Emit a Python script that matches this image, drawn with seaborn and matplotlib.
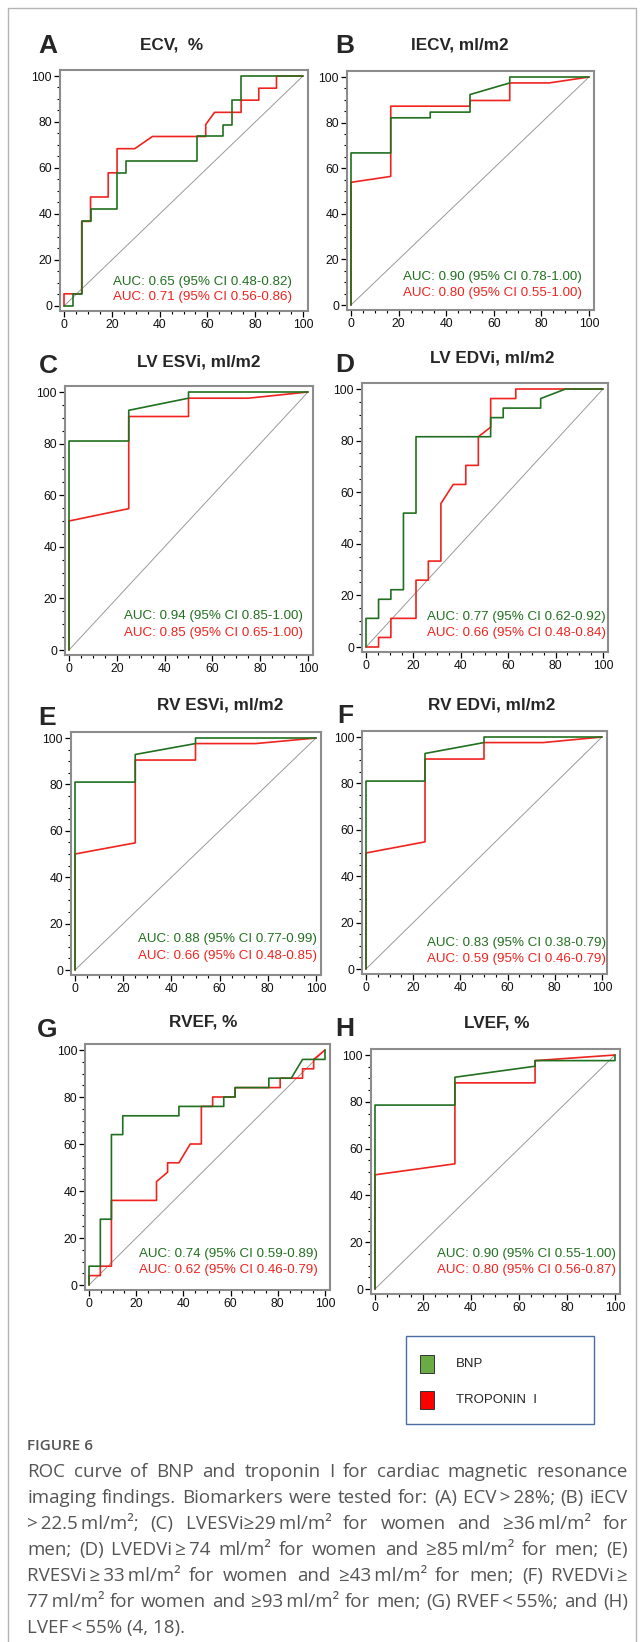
import numpy as np
import pandas as pd
import matplotlib
matplotlib.use("Agg")
import matplotlib.pyplot as plt
import seaborn as sns
from matplotlib.patches import Rectangle
from matplotlib.lines import Line2D
from matplotlib.ticker import MultipleLocator

# ROC points: x = 100-specificity (%), y = sensitivity (%)
ecv_bnp_x = [0, 3.7, 3.7, 7.4, 7.4, 11.1, 11.1, 22.2, 22.2, 25.9, 25.9, 55.6, 55.6, 66.7, 66.7, 70.4, 70.4, 74.1, 74.1, 100]
ecv_bnp_y = [0, 0, 5.3, 5.3, 36.8, 36.8, 42.1, 42.1, 57.9, 57.9, 63.2, 63.2, 73.7, 73.7, 78.9, 78.9, 89.5, 89.5, 100, 100]
ecv_trop_x = [0, 0, 7.4, 7.4, 11.1, 11.1, 18.5, 18.5, 22.2, 22.2, 29.6, 37.0, 59.3, 59.3, 63.0, 74.1, 74.1, 81.5, 81.5, 88.9, 88.9, 100]
ecv_trop_y = [0, 5.3, 5.3, 36.8, 36.8, 47.4, 47.4, 57.9, 57.9, 68.4, 68.4, 73.7, 73.7, 78.9, 84.2, 84.2, 89.5, 89.5, 94.7, 94.7, 100, 100]

iecv_bnp_x = [0, 0, 16.7, 16.7, 33.3, 33.3, 50, 50, 66.7, 66.7, 100]
iecv_bnp_y = [0, 66.7, 66.7, 82.1, 82.1, 84.6, 84.6, 92.3, 97.4, 100, 100]
iecv_trop_x = [0, 0, 16.7, 16.7, 50, 50, 66.7, 66.7, 83.3, 100]
iecv_trop_y = [0, 53.8, 56.4, 87.2, 87.2, 89.7, 89.7, 97.4, 97.4, 100]

lvesvi_bnp_x = [0, 0, 25, 25, 50, 50, 100]
lvesvi_bnp_y = [0, 81.0, 81.0, 92.9, 97.6, 100, 100]
lvesvi_trop_x = [0, 0, 25, 25, 50, 50, 75, 100]
lvesvi_trop_y = [0, 50.0, 54.8, 90.5, 90.5, 97.6, 97.6, 100]

lvedvi_bnp_x = [0, 0, 5.3, 5.3, 10.5, 10.5, 15.8, 15.8, 21.1, 21.1, 52.6, 52.6, 57.9, 57.9, 73.7, 73.7, 84.2, 100]
lvedvi_bnp_y = [0, 11.1, 11.1, 18.5, 18.5, 22.2, 22.2, 51.9, 51.9, 81.5, 81.5, 88.9, 88.9, 92.6, 92.6, 96.3, 100, 100]
lvedvi_trop_x = [0, 5.3, 5.3, 10.5, 10.5, 21.1, 21.1, 26.3, 26.3, 31.6, 31.6, 36.8, 42.1, 42.1, 47.4, 47.4, 52.6, 52.6, 63.2, 63.2, 100]
lvedvi_trop_y = [0, 0, 3.7, 3.7, 11.1, 11.1, 25.9, 25.9, 33.3, 33.3, 55.6, 63.0, 63.0, 70.4, 70.4, 81.5, 85.2, 96.3, 96.3, 100, 100]

rvesvi_bnp_x = [0, 0, 25, 25, 50, 50, 100]
rvesvi_bnp_y = [0, 81.0, 81.0, 92.9, 97.6, 100, 100]
rvesvi_trop_x = [0, 0, 25, 25, 50, 50, 75, 100]
rvesvi_trop_y = [0, 50.0, 54.8, 90.5, 90.5, 97.6, 97.6, 100]

rvedvi_bnp_x = [0, 0, 25, 25, 50, 50, 100]
rvedvi_bnp_y = [0, 81.0, 81.0, 92.9, 97.6, 100, 100]
rvedvi_trop_x = [0, 0, 25, 25, 50, 50, 75, 100]
rvedvi_trop_y = [0, 50.0, 54.8, 90.5, 90.5, 97.6, 97.6, 100]

rvef_bnp_x = [0, 0, 4.8, 4.8, 9.5, 9.5, 14.3, 14.3, 38.1, 38.1, 57.1, 57.1, 61.9, 61.9, 76.2, 76.2, 85.7, 90.5, 100, 100]
rvef_bnp_y = [0, 8, 8, 28, 28, 64, 64, 72, 72, 76, 76, 80, 80, 84, 84, 88, 88, 96, 96, 100]
rvef_trop_x = [0, 0, 4.8, 4.8, 9.5, 9.5, 28.6, 28.6, 33.3, 33.3, 38.1, 42.9, 47.6, 47.6, 52.4, 52.4, 61.9, 61.9, 81.0, 81.0, 90.5, 90.5, 95.2, 95.2, 100]
rvef_trop_y = [0, 4, 4, 8, 8, 36, 36, 44, 48, 52, 52, 60, 60, 76, 76, 80, 80, 84, 84, 88, 88, 92, 92, 96, 100]

lvef_bnp_x = [0, 0, 33.3, 33.3, 66.7, 66.7, 100, 100]
lvef_bnp_y = [0, 78.6, 78.6, 90.5, 95.2, 97.6, 97.6, 100]
lvef_trop_x = [0, 0, 33.3, 33.3, 66.7, 66.7, 100]
lvef_trop_y = [0, 48.8, 53.5, 88.1, 88.1, 97.6, 100]

diag = [0, 100]

letters = ["A", "B", "C", "D", "E", "F", "G", "H"]
titles = ["ECV,  %", "IECV, ml/m2", "LV ESVi, ml/m2", "LV EDVi, ml/m2",
          "RV ESVi, ml/m2", "RV EDVi, ml/m2", "RVEF, %", "LVEF, %"]
auc_bnp = ["AUC: 0.65 (95% CI 0.48-0.82)", "AUC: 0.90 (95% CI 0.78-1.00)",
           "AUC: 0.94 (95% CI 0.85-1.00)", "AUC: 0.77 (95% CI 0.62-0.92)",
           "AUC: 0.88 (95% CI 0.77-0.99)", "AUC: 0.83 (95% CI 0.38-0.79)",
           "AUC: 0.74 (95% CI 0.59-0.89)", "AUC: 0.90 (95% CI 0.55-1.00)"]
auc_trop = ["AUC: 0.71 (95% CI 0.56-0.86)", "AUC: 0.80 (95% CI 0.55-1.00)",
            "AUC: 0.85 (95% CI 0.65-1.00)", "AUC: 0.66 (95% CI 0.48-0.84)",
            "AUC: 0.66 (95% CI 0.48-0.85)", "AUC: 0.59 (95% CI 0.46-0.79)",
            "AUC: 0.62 (95% CI 0.46-0.79)", "AUC: 0.80 (95% CI 0.56-0.87)"]
ticks = [0, 20, 40, 60, 80, 100]
legend_labels = ["BNP", "TROPONIN  I"]

curves = [
    (ecv_bnp_x, ecv_bnp_y, ecv_trop_x, ecv_trop_y),
    (iecv_bnp_x, iecv_bnp_y, iecv_trop_x, iecv_trop_y),
    (lvesvi_bnp_x, lvesvi_bnp_y, lvesvi_trop_x, lvesvi_trop_y),
    (lvedvi_bnp_x, lvedvi_bnp_y, lvedvi_trop_x, lvedvi_trop_y),
    (rvesvi_bnp_x, rvesvi_bnp_y, rvesvi_trop_x, rvesvi_trop_y),
    (rvedvi_bnp_x, rvedvi_bnp_y, rvedvi_trop_x, rvedvi_trop_y),
    (rvef_bnp_x, rvef_bnp_y, rvef_trop_x, rvef_trop_y),
    (lvef_bnp_x, lvef_bnp_y, lvef_trop_x, lvef_trop_y),
]

caption_lines = [
    ["ROC", "curve", "of", "BNP", "and", "troponin", "I", "for", "cardiac", "magnetic", "resonance"],
    ["imaging", "findings.", "Biomarkers", "were", "tested", "for:", "(A)", "ECV\u2009>\u200928%;", "(B)", "iECV"],
    [">\u200922.5\u2009ml/m²;", "(C)", "LVESVi≥29\u2009ml/m²", "for", "women", "and", "≥36\u2009ml/m²", "for"],
    ["men;", "(D)", "LVEDVi\u2009≥\u200974", "ml/m²", "for", "women", "and", "≥85\u2009ml/m²", "for", "men;", "(E)"],
    ["RVESVi\u2009≥\u200933\u2009ml/m²", "for", "women", "and", "≥43\u2009ml/m²", "for", "men;", "(F)", "RVEDVi\u2009≥"],
    ["77\u2009ml/m²", "for", "women", "and", "≥93\u2009ml/m²", "for", "men;", "(G)", "RVEF\u2009<\u200955%;", "and", "(H)"],
    ["LVEF\u2009<\u200955%", "(4,", "18)."],
]

# pixel layout: (x at 0, x at 100, y at 0, y at 100), letter centre, title centre
W, H = 644, 1642
panel_px = [(64, 303, 306, 76), (351, 589, 305, 77), (69, 308, 650, 392), (366, 603, 647, 389),
            (75, 316, 970, 738), (366, 602, 969, 737), (89, 325, 1285, 1050), (375, 615, 1289, 1055)]
letter_px = [(48, 46), (345, 46), (48, 366), (345, 365), (47, 718), (345, 716), (47, 1030), (345, 1029)]
title_px = [(172, 45), (460, 45), (199, 362), (492, 358), (220, 705), (492, 705), (203, 1022), (497, 1023)]
auc_pos = [(20.5, 10.4, 3.9), (21.8, 12.3, 5.3), (23, 13.2, 6.6), (25.7, 11.6, 5.4),
           (26, 13.4, 6.0), (25.8, 11.2, 4.3), (21, 13.2, 6.4), (26, 15, 8.1)]

XL = (-1.5, 102)
YL = (-2, 102.5)

GREEN = "#21701f"
RED = "#f0231e"

sns.set_style("ticks")
plt.rcParams["font.family"] = ["Liberation Sans", "DejaVu Sans"]

fig = plt.figure(figsize=(W / 100, H / 100), dpi=100)
fig.patch.set_facecolor("white")


def fx(x):
    return x / W


def fy(y):
    return 1 - y / H


def axes_rect(x0, x100, y0, y100):
    sx = (x100 - x0) / 100
    sy = (y0 - y100) / 100
    left = x0 + XL[0] * sx
    right = x0 + XL[1] * sx
    bottom = y0 - YL[0] * sy
    top = y0 - YL[1] * sy
    return [left / W, 1 - bottom / H, (right - left) / W, (bottom - top) / H]


for i in range(8):
    ax = fig.add_axes(axes_rect(*panel_px[i]))
    bx, by, tx, ty = curves[i]
    ax.plot(diag, diag, color="#9a9a9a", lw=0.7, zorder=1)
    sns.lineplot(x=tx, y=ty, sort=False, estimator=None, color=RED, lw=1.2, ax=ax, zorder=2)
    sns.lineplot(x=bx, y=by, sort=False, estimator=None, color=GREEN, lw=1.2, ax=ax, zorder=3)
    ax.set_xlim(*XL)
    ax.set_ylim(*YL)
    ax.set_xticks(ticks)
    ax.set_yticks(ticks)
    ax.xaxis.set_minor_locator(MultipleLocator(5))
    ax.yaxis.set_minor_locator(MultipleLocator(5))
    ax.tick_params(which="major", direction="out", length=4, width=0.9, color="black",
                   labelsize=8.8, pad=2, labelcolor="#111111")
    ax.tick_params(which="minor", direction="out", length=2, width=0.8, color="black")
    ax.set_xlabel("")
    ax.set_ylabel("")
    for s in ax.spines.values():
        s.set_color("#8c8c8c")
        s.set_linewidth(1.5)
    ax.set_facecolor("white")
    ax.text(auc_pos[i][0], auc_pos[i][1], auc_bnp[i], color=GREEN, fontsize=9.6, va="center")
    ax.text(auc_pos[i][0], auc_pos[i][2], auc_trop[i], color=RED, fontsize=9.6, va="center")

    fig.text(fx(letter_px[i][0]), fy(letter_px[i][1]), letters[i], fontsize=19,
             fontweight="bold", ha="center", va="center")
    fig.text(fx(title_px[i][0]), fy(title_px[i][1]), titles[i], fontsize=12.3,
             fontweight="bold", ha="center", va="center")

# outer frame
fig.add_artist(Line2D([fx(8), fx(8), fx(636), fx(636)], [0, fy(8), fy(8), 0],
                      color="#b4b4b4", lw=1.0))

# legend box
box_top, box_bot = 1336, 1424
fig.add_artist(Rectangle((fx(406), fy(box_bot)), (594 - 406) / W, (box_bot - box_top) / H,
                         facecolor="white", edgecolor="#4a6da3", lw=1.0))
fig.add_artist(Rectangle((fx(420), fy(box_top + 37)), 14 / W, 18 / H,
                         facecolor="#6aab46", edgecolor="#333333", lw=0.7))
fig.add_artist(Rectangle((fx(420), fy(box_top + 73)), 14 / W, 18 / H,
                         facecolor="#ff0000", edgecolor="#333333", lw=0.7))
fig.text(fx(456), fy(box_top + 28), legend_labels[0], fontsize=9.5, va="center")
fig.text(fx(456), fy(box_top + 64), legend_labels[1], fontsize=9.5, va="center")

# caption
cap_font = ["Open Sans", "DejaVu Sans"]
cap_size = 13.5
fig.text(fx(27), fy(1446), "FIGURE 6", fontsize=11, color="#555555",
         family=cap_font, fontweight="semibold", va="center")
renderer = fig.canvas.get_renderer()
cap_y = 1472
for n, words in enumerate(caption_lines):
    y = cap_y + n * 26
    if n == len(caption_lines) - 1:
        fig.text(fx(27), fy(y), " ".join(words), fontsize=cap_size, color="#555555",
                 family=cap_font, va="center")
        continue
    txts = [fig.text(0, fy(y), w, fontsize=cap_size, color="#555555", family=cap_font, va="center")
            for w in words]
    widths = [t.get_window_extent(renderer).width for t in txts]
    gap = (628 - 27 - sum(widths)) / (len(words) - 1)
    xpos = 27
    for t, w in zip(txts, widths):
        t.set_x(fx(xpos))
        xpos += w + gap

fig.savefig("out.png", dpi=100, facecolor="white")
